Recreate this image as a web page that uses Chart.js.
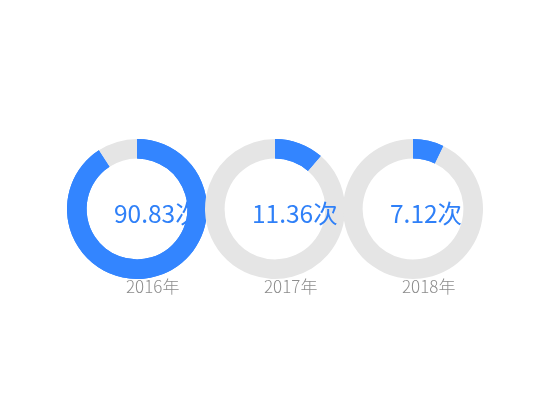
<!DOCTYPE html>
<html>
<head>
<meta charset="utf-8">
<script src="https://cdn.jsdelivr.net/npm/chart.js@4"></script>
<style>
  html, body { margin: 0; padding: 0; background: #fff; }
  body { width: 550px; height: 420px; position: relative; overflow: hidden; }
  .box { position: absolute; width: 180px; height: 190px; }
</style>
</head>
<body>
<div class="box" id="b0"><canvas id="c0"></canvas></div>
<div class="box" id="b1"><canvas id="c1"></canvas></div>
<div class="box" id="b2"><canvas id="c2"></canvas></div>
<script>
const years = ['2016年', '2017年', '2018年'];
const values = [90.83, 11.36, 7.12];
const unit = '次';
const full = 100;

const centersX = [137, 275, 413];
const ringTop = 139;
const BLUE = '#3385FF';
const GRAY = '#E5E5E5';

// gray ring -> center text -> blue arc on top
const centerText = {
  id: 'centerText',
  afterDatasetsDraw(chart, args, opts) {
    const meta = chart.getDatasetMeta(0);
    const arc = meta.data[0];
    const ctx = chart.ctx;
    ctx.save();
    ctx.font = '400 24.5px "Noto Sans CJK SC", "Noto Sans", sans-serif';
    ctx.fillStyle = '#2F80F8';
    ctx.textAlign = 'left';
    ctx.textBaseline = 'middle';
    ctx.fillText(opts.text, arc.x - 23, arc.y + 5);
    ctx.restore();
    // redraw the value arc above the text
    arc.draw(ctx, chart.chartArea);
    ctx.save();
    ctx.font = '300 17px "Noto Sans CJK SC", "Noto Sans", sans-serif';
    ctx.fillStyle = '#8C8C8C';
    ctx.textAlign = 'left';
    ctx.textBaseline = 'middle';
    ctx.fillText(opts.label, arc.x - 11, arc.y + 78);
    ctx.restore();
  }
};

years.forEach((y, i) => {
  const box = document.getElementById('b' + i);
  box.style.left = (centersX[i] - 90) + 'px';
  box.style.top = ringTop + 'px';
  new Chart(document.getElementById('c' + i), {
    type: 'doughnut',
    data: {
      labels: [y, ''],
      datasets: [{
        data: [values[i], full - values[i]],
        backgroundColor: [BLUE, GRAY],
        borderWidth: 0,
        hoverOffset: 0
      }]
    },
    options: {
      responsive: true,
      maintainAspectRatio: false,
      animation: false,
      cutout: '72%',
      layout: { padding: { top: 0, bottom: 50, left: 0, right: 0 } },
      plugins: {
        legend: { display: false },
        tooltip: { enabled: false },
        centerText: { text: values[i] + unit, label: y }
      },
      events: []
    },
    plugins: [centerText]
  });
});
</script>
</body>
</html>
